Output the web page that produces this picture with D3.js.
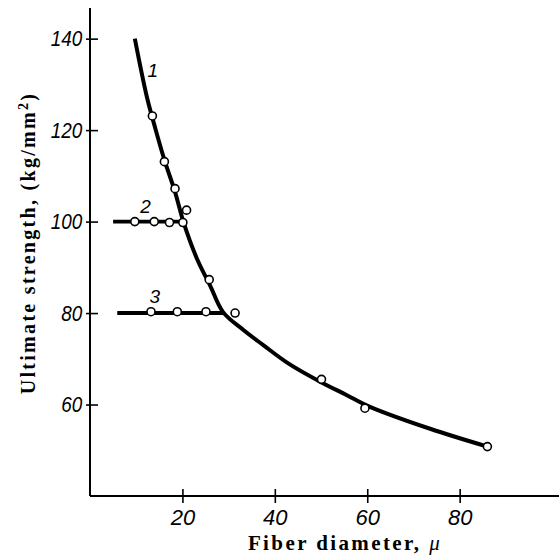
<!DOCTYPE html>
<html>
<head>
<meta charset="utf-8">
<script src="https://cdn.jsdelivr.net/npm/d3@7"></script>
<style>
  body { margin: 0; background: #fff; }
  svg { display: block; }
</style>
</head>
<body>
<script>
// values
const xTicks = [20, 40, 60, 80];
const yTicks = [60, 80, 100, 120, 140];

// curve 1: smooth fitted line
const curve1 = [
  [9.7, 140], [12.3, 127.3], [14.1, 120.5], [16.1, 113.5], [18.4, 106.5],
  [20.2, 100], [23.1, 92], [26, 86], [28.8, 80.2], [33.2, 76.3], [37.5, 73],
  [42.9, 69], [49.8, 65], [55.5, 62.1], [60.6, 59.5], [73.6, 54.7], [86, 50.8]
];
const points1 = [
  [13.5, 123.1], [16.1, 113.1], [18.4, 107.2], [20.9, 102.5], [25.8, 87.3],
  [31.4, 80], [50.1, 65.5], [59.5, 59.2], [86, 50.8]
];
// curve 2 and 3: horizontal runs
const line2 = [[5, 100], [20.1, 100]];
const points2 = [[9.7, 100], [13.9, 100], [17.2, 99.8], [20.1, 99.8]];
const line3 = [[5.9, 80], [29, 80]];
const points3 = [[13.2, 80.3], [18.9, 80.3], [25.1, 80.3]];

const curveLabels = [
  {text: "1", x: 13.6, y: 131.6},
  {text: "2", x: 12, y: 101.8},
  {text: "3", x: 14, y: 82.1}
];

const width  = 559;
const height = 556;

const x = d3.scaleLinear().domain([0, 101.5]).range([90, 559]);
const y = d3.scaleLinear().domain([40, 146.7]).range([496, 8]);

const svg = d3.select("body").append("svg")
  .attr("width", width)
  .attr("height", height);

const numFont = "'Liberation Sans', Arial, sans-serif";
const serif   = "'Liberation Serif', 'DejaVu Serif', serif";

// axes
const xAxis = svg.append("g")
  .attr("transform", `translate(0,${y(40)})`)
  .call(d3.axisBottom(x).tickValues(xTicks).tickSize(0).tickPadding(13));
xAxis.select(".domain").attr("stroke-width", 2).attr("d", `M${x(0)},0H${width}`);
xAxis.selectAll(".tick line").attr("y1", -7).attr("y2", 7).attr("stroke-width", 1.6);
xAxis.selectAll(".tick text")
  .attr("dy", "0.71em")
  .style("font", `italic 22px ${numFont}`)
  .attr("fill", "#000");

const yAxis = svg.append("g")
  .attr("transform", `translate(${x(0)},0)`)
  .call(d3.axisLeft(y).tickValues(yTicks).tickSize(0).tickPadding(8));
yAxis.select(".domain").attr("stroke-width", 2).attr("d", `M0,${y(146.7)}V${y(40)}`);
yAxis.selectAll(".tick line").attr("x1", -4).attr("x2", 8).attr("stroke-width", 1.6);
yAxis.selectAll(".tick text")
  .attr("transform", "scale(0.86,1)")
  .attr("x", -9)
  .style("font", `italic 22px ${numFont}`)
  .attr("fill", "#000");

// axis titles
const yt = svg.append("text")
  .attr("transform", `translate(35,243) rotate(-90)`)
  .attr("text-anchor", "middle")
  .style("font", `bold 20px ${serif}`)
  .style("letter-spacing", "2.3px")
  .text("Ultimate strength, (kg/mm");
yt.append("tspan").attr("dy", -7).style("font-size", "14px").text("2");
yt.append("tspan").attr("dy", 7).text(")");

const xt = svg.append("text")
  .attr("x", 345).attr("y", 550)
  .attr("text-anchor", "middle")
  .style("font", `bold 21px ${serif}`)
  .style("letter-spacing", "2.4px")
  .text("Fiber diameter, ");
xt.append("tspan").style("font-style", "italic").style("font-weight", "normal").text("μ");

// lines
const line = d3.line().x(d => x(d[0])).y(d => y(d[1]));
const smooth = d3.line().x(d => x(d[0])).y(d => y(d[1])).curve(d3.curveCatmullRom);

svg.append("path").datum(curve1)
  .attr("d", smooth).attr("fill", "none").attr("stroke", "#000").attr("stroke-width", 4);
svg.append("path").datum(line2)
  .attr("d", line).attr("fill", "none").attr("stroke", "#000").attr("stroke-width", 3.8);
svg.append("path").datum(line3)
  .attr("d", line).attr("fill", "none").attr("stroke", "#000").attr("stroke-width", 4);

// markers
svg.append("g").selectAll("circle")
  .data(points1.concat(points2, points3))
  .join("circle")
  .attr("cx", d => x(d[0]))
  .attr("cy", d => y(d[1]))
  .attr("r", 4)
  .attr("fill", "#fff")
  .attr("stroke", "#000")
  .attr("stroke-width", 1.6);

// curve numbers
svg.append("g").selectAll("text")
  .data(curveLabels)
  .join("text")
  .attr("x", d => x(d.x))
  .attr("y", d => y(d.y))
  .attr("text-anchor", "middle")
  .style("font", `italic 19px ${numFont}`)
  .text(d => d.text);
</script>
</body>
</html>
